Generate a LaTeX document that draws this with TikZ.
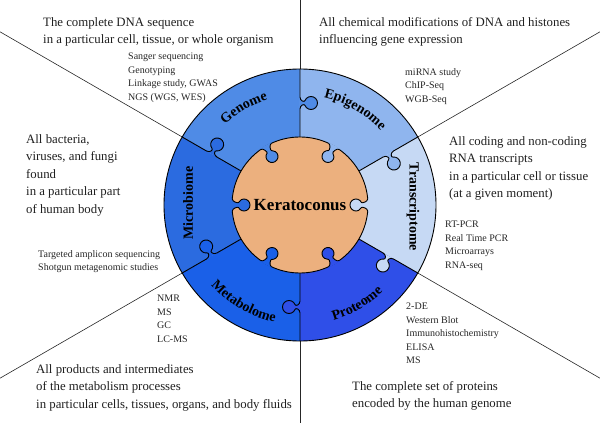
\documentclass[tikz,border=0pt]{standalone}
\usepackage{fontspec}
\setmainfont{Liberation Serif}
\usetikzlibrary{decorations.text}

\definecolor{genome}{HTML}{4F8BE6}
\definecolor{epigenome}{HTML}{8FB5EE}
\definecolor{transcriptome}{HTML}{C6D9F4}
\definecolor{proteome}{HTML}{2F4FE8}
\definecolor{metabolome}{HTML}{1A60E8}
\definecolor{microbiome}{HTML}{2B6BE0}
\definecolor{kerato}{HTML}{ECB07E}

\newcommand{\sectorfont}{\fontsize{14}{14}\selectfont\bfseries}

\tikzset{
    sector line/.style={draw=black, line width=0.9pt}, % outlines of the puzzle pieces
    ray/.style={draw=black!85, line width=0.6pt},
    desc/.style={anchor=north west, inner sep=0pt, align=left, text=black!88,
        font=\fontsize{12.8}{17.5}\selectfont},
    method/.style={anchor=north west, inner sep=0pt, align=left, text=black!85,
        font=\fontsize{10}{13.5}\selectfont},
    side label/.style={inner sep=0pt, font=\sectorfont},
    arc label/.style={decorate, decoration={text along path, text align=center}}
}

\begin{document}
\begin{tikzpicture}[x=1pt, y=1pt]
    \useasboundingbox (-300,-218) rectangle (300,205);

    % the six pieces of the ring
    \foreach \a/\col in {90/genome, 30/epigenome, -30/transcriptome, -90/proteome, 210/metabolome, 150/microbiome}
        \fill[\col] (0,0) -- (\a:136) arc[start angle=\a, end angle=\a+60, radius=136pt] -- cycle;

    % rays out to the border
    \foreach \a/\r in {90/205, 30/346.4, -30/346.4, -90/218, 210/346.4, 150/346.4}
        \draw[ray] (\a:136) -- (\a:\r);

    % borders between the pieces, each with a knob
    \foreach \a/\col in {90/genome, 30/epigenome, -30/transcriptome, -90/proteome, 210/metabolome, 150/microbiome} {
        \begin{scope}[rotate=\a]
            \fill[\col] (96,0) .. controls (100,0) and (101.5,-4.4) .. (99.5,-5)
                arc[start angle=112.6, end angle=427.4, radius=6.5pt]
                .. controls (102.5,-4.4) and (104,0) .. (108,0) -- cycle;
            \draw[sector line] (68,0) -- (96,0) .. controls (100,0) and (101.5,-4.4) .. (99.5,-5)
                arc[start angle=112.6, end angle=427.4, radius=6.5pt]
                .. controls (102.5,-4.4) and (104,0) .. (108,0) -- (136,0);
        \end{scope}
    }

    \draw[sector line] (0,0) circle (136pt);

    % centre piece
    \node[circle, draw=black, line width=0.9pt, fill=kerato, minimum size=136pt, inner sep=0pt] (core) at (0,0) {};

    % knobs of the ring into the centre piece
    \foreach \a/\col in {120/genome, 60/epigenome, 0/transcriptome, -60/proteome, 240/metabolome, 180/microbiome} {
        \begin{scope}[rotate=\a]
            \fill[\col] (67.7,6) .. controls (67.9,3.5) and (61.95,1.41) .. (61.45,2.5)
                arc[start angle=24.6, end angle=335.4, radius=6pt]
                .. controls (61.95,-1.41) and (67.9,-3.5) .. (67.7,-6) -- (68.8,-6) -- (68.8,6) -- cycle;
            \draw[sector line] (67.7,6) .. controls (67.9,3.5) and (61.95,1.41) .. (61.45,2.5)
                arc[start angle=24.6, end angle=335.4, radius=6pt]
                .. controls (61.95,-1.41) and (67.9,-3.5) .. (67.7,-6);
        \end{scope}
    }

    \node[inner sep=0pt, font=\fontsize{17}{17}\selectfont\bfseries] (keratoconus) at (0,0) {Keratoconus};

    % names of the pieces
    \path[arc label, decoration={text={|\sectorfont|Genome}}] (150:110) arc[start angle=150, end angle=90, radius=110pt];
    \path[arc label, decoration={text={|\sectorfont|Epigenome}}] (90:110) arc[start angle=90, end angle=30, radius=110pt];
    \path[arc label, decoration={text={|\sectorfont|Metabolome}}] (210:120) arc[start angle=210, end angle=270, radius=120pt];
    \path[arc label, decoration={text={|\sectorfont|Proteome}}] (270:120) arc[start angle=270, end angle=330, radius=120pt];
    \node[side label, rotate=90] (microbiome) at (-112,2) {Microbiome};
    \node[side label, rotate=-90] (transcriptome) at (113,-2) {Transcriptome};

    % descriptions
    \node[desc] (genome text) at (-257,188) {The complete DNA sequence\\in a particular cell, tissue, or whole organism};
    \node[desc] (epigenome text) at (19,188) {All chemical modifications of DNA and histones\\influencing gene expression};
    \node[desc] (transcriptome text) at (149,69) {All coding and non-coding\\RNA transcripts\\in a particular cell or tissue\\(at a given moment)};
    \node[desc] (proteome text) at (52,-176) {The complete set of proteins\\encoded by the human genome};
    \node[desc] (metabolome text) at (-264,-159) {All products and intermediates\\of the metabolism processes\\in particular cells, tissues, organs, and body fluids};
    \node[desc] (microbiome text) at (-274,71) {All bacteria,\\viruses, and fungi\\found\\in a particular part\\of human body};

    % methods
    \node[method] (genome methods) at (-172,152) {Sanger sequencing\\Genotyping\\Linkage study, GWAS\\NGS (WGS, WES)};
    \node[method] (epigenome methods) at (105,137) {miRNA study\\ChIP-Seq\\WGB-Seq};
    \node[method] (transcriptome methods) at (145,-16) {RT-PCR\\Real Time PCR\\Microarrays\\RNA-seq};
    \node[method] (proteome methods) at (106,-98) {2-DE\\Western Blot\\Immunohistochemistry\\ELISA\\MS};
    \node[method] (metabolome methods) at (-143,-90) {NMR\\MS\\GC\\LC-MS};
    \node[method] (microbiome methods) at (-262,-45) {Targeted amplicon sequencing\\Shotgun metagenomic studies};
\end{tikzpicture}
\end{document}
